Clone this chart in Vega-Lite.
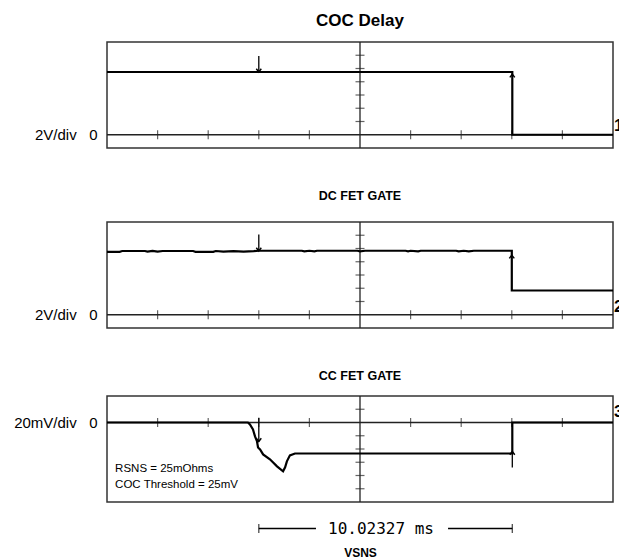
{
  "$schema": "https://vega.github.io/schema/vega-lite/v6.json",
  "padding": {"left": 12, "top": 11, "right": 0, "bottom": 0},
  "config": {
    "font": "Liberation Sans",
    "view": {"stroke": "#333", "strokeWidth": 1.5},
    "title": {"color": "#000", "anchor": "middle"}
  },
  "datasets": {
    "ticksX": [{"t": -8}, {"t": -6}, {"t": -4}, {"t": -2}, {"t": 2}, {"t": 4}, {"t": 6}, {"t": 8}],
    "ticksY12": [{"v": 2}, {"v": 4}, {"v": 6}, {"v": 8}, {"v": 10}, {"v": 12}],
    "ticksY3": [{"v": 20}, {"v": -20}, {"v": -40}, {"v": -60}, {"v": -80}, {"v": -100}],
    "sig1": [
      {"i": 0, "t": -10, "v": 9.47},
      {"i": 1, "t": 6.02, "v": 9.47},
      {"i": 2, "t": 6.02, "v": 0},
      {"i": 3, "t": 10, "v": 0}
    ],
    "sig2": [
      {"i": 0, "t": -10, "v": 9.5},
      {"i": 1, "t": -9.5, "v": 9.5},
      {"i": 2, "t": -9.4, "v": 9.62},
      {"i": 3, "t": -8.5, "v": 9.62},
      {"i": 4, "t": -8.4, "v": 9.52},
      {"i": 5, "t": -8.2, "v": 9.64},
      {"i": 6, "t": -8.0, "v": 9.52},
      {"i": 7, "t": -7.8, "v": 9.62},
      {"i": 8, "t": -6.6, "v": 9.62},
      {"i": 9, "t": -6.5, "v": 9.5},
      {"i": 10, "t": -5.8, "v": 9.5},
      {"i": 11, "t": -5.7, "v": 9.62},
      {"i": 12, "t": -5.4, "v": 9.54},
      {"i": 13, "t": -5.0, "v": 9.6},
      {"i": 14, "t": -4.6, "v": 9.54},
      {"i": 15, "t": -4.2, "v": 9.6},
      {"i": 16, "t": -4.0, "v": 9.66},
      {"i": 17, "t": -2.3, "v": 9.66},
      {"i": 18, "t": -2.2, "v": 9.56},
      {"i": 19, "t": -2.0, "v": 9.66},
      {"i": 20, "t": -1.8, "v": 9.57},
      {"i": 21, "t": -1.7, "v": 9.66},
      {"i": 22, "t": -0.1, "v": 9.66},
      {"i": 23, "t": 0, "v": 9.57},
      {"i": 24, "t": 0.2, "v": 9.66},
      {"i": 25, "t": 1.8, "v": 9.66},
      {"i": 26, "t": 1.9, "v": 9.57},
      {"i": 27, "t": 2.0, "v": 9.66},
      {"i": 28, "t": 2.3, "v": 9.57},
      {"i": 29, "t": 2.4, "v": 9.66},
      {"i": 30, "t": 3.8, "v": 9.66},
      {"i": 31, "t": 3.9, "v": 9.56},
      {"i": 32, "t": 4.1, "v": 9.66},
      {"i": 33, "t": 4.3, "v": 9.56},
      {"i": 34, "t": 4.5, "v": 9.66},
      {"i": 35, "t": 6.0, "v": 9.66},
      {"i": 36, "t": 6.0, "v": 3.66},
      {"i": 37, "t": 10, "v": 3.66}
    ],
    "sig3": [
      {"i": 0, "t": -10, "v": 0},
      {"i": 1, "t": -4.43, "v": 0},
      {"i": 2, "t": -4.35, "v": -3},
      {"i": 3, "t": -4.23, "v": -10.5},
      {"i": 4, "t": -4.15, "v": -21},
      {"i": 5, "t": -4.07, "v": -28.6},
      {"i": 6, "t": -4.03, "v": -37.6},
      {"i": 7, "t": -3.95, "v": -40.6},
      {"i": 8, "t": -3.83, "v": -48.1},
      {"i": 9, "t": -3.56, "v": -55.6},
      {"i": 10, "t": -3.28, "v": -66.2},
      {"i": 11, "t": -3.04, "v": -73.7},
      {"i": 12, "t": -2.96, "v": -67.7},
      {"i": 13, "t": -2.89, "v": -58.6},
      {"i": 14, "t": -2.77, "v": -49.6},
      {"i": 15, "t": -2.57, "v": -46.8},
      {"i": 16, "t": 6.02, "v": -46.8},
      {"i": 17, "t": 6.02, "v": 0},
      {"i": 18, "t": 10, "v": 0}
    ],
    "stems1": [{"t": -4, "v": 11.9, "v2": 9.47}],
    "heads1": [{"t": -4, "v": 9.47, "dir": "down"}, {"t": 6.02, "v": 9.16, "dir": "up"}],
    "stems2": [{"t": -4, "v": 12.1, "v2": 9.62}],
    "heads2": [{"t": -4, "v": 9.62, "dir": "down"}, {"t": 6.0, "v": 9.0, "dir": "up"}],
    "stems3": [{"t": -4, "v": 7, "v2": -28.7}, {"t": 6.02, "v": -43.8, "v2": -67.9}],
    "heads3": [{"t": -4, "v": -28.7, "dir": "down"}, {"t": 6.02, "v": -43.8, "dir": "up"}],
    "notes3": [
      {"t": -9.68, "v": -70.9, "s": "RSNS = 25mOhms"},
      {"t": -9.68, "v": -93.6, "s": "COC Threshold = 25mV"}
    ],
    "measLines": [{"t": -4, "t2": -1.74, "v": -160}, {"t": 3.48, "t2": 6.02, "v": -160}],
    "measCaps": [{"t": -4, "v": -160}, {"t": 6.02, "v": -160}],
    "measText": [{"t": 0.83, "v": -160, "s": "10.02327 ms"}]
  },
  "spacing": 39,
  "vconcat": [
    {
      "width": 506, "height": 106,
      "title": {"text": "COC Delay", "fontSize": 17, "fontWeight": "bold", "offset": 11},
      "layer": [
        {"data": {"values": [{"t": 0}]}, "mark": {"type": "rule", "color": "#222", "strokeWidth": 1.3},
         "encoding": {"x": {"field": "t", "type": "quantitative", "scale": {"domain": [-10, 10], "nice": false, "zero": false}, "axis": null}}},
        {"data": {"values": [{"v": 0}]}, "mark": {"type": "rule", "color": "#222", "strokeWidth": 1.3},
         "encoding": {"y": {"field": "v", "type": "quantitative", "scale": {"domain": [-2, 14], "nice": false, "zero": false},
           "axis": {"values": [0], "labelExpr": "'2V/div\u00a0\u00a0\u00a00'", "ticks": false, "domain": false, "grid": false, "labelFontSize": 15, "labelColor": "#000", "labelPadding": 10, "title": null}}}},
        {"data": {"name": "ticksX"}, "mark": {"type": "tick", "orient": "vertical", "size": 9, "thickness": 1.2, "color": "#222"},
         "encoding": {"x": {"field": "t", "type": "quantitative"}, "y": {"datum": 0, "type": "quantitative"}}},
        {"data": {"name": "ticksY12"}, "mark": {"type": "tick", "orient": "horizontal", "size": 9, "thickness": 1.2, "color": "#222"},
         "encoding": {"y": {"field": "v", "type": "quantitative"}, "x": {"datum": 0, "type": "quantitative"}}},
        {"data": {"name": "sig1"}, "mark": {"type": "line", "color": "#000", "strokeWidth": 2.2},
         "encoding": {"x": {"field": "t", "type": "quantitative"}, "y": {"field": "v", "type": "quantitative"}, "order": {"field": "i"}}},
        {"data": {"name": "stems1"}, "mark": {"type": "rule", "color": "#000", "strokeWidth": 1.3},
         "encoding": {"x": {"field": "t", "type": "quantitative"}, "y": {"field": "v", "type": "quantitative"}, "y2": {"field": "v2"}}},
        {"data": {"name": "heads1"}, "mark": {"type": "point", "filled": false, "color": "#000", "strokeWidth": 1.4, "size": 25, "opacity": 1},
         "encoding": {"x": {"field": "t", "type": "quantitative"}, "y": {"field": "v", "type": "quantitative"},
           "shape": {"field": "dir", "type": "nominal", "scale": {"domain": ["down", "up"], "range": ["M-1,-1.3L0,0L1,-1.3", "M-1,1.3L0,0L1,1.3"]}, "legend": null}}},
        {"data": {"values": [{"t": 10, "v": 0, "s": "1"}]}, "mark": {"type": "text", "align": "left", "baseline": "bottom", "dx": 1, "dy": 0, "fontSize": 17, "fontWeight": "bold", "color": "#000"},
         "encoding": {"x": {"field": "t", "type": "quantitative"}, "y": {"field": "v", "type": "quantitative"}, "text": {"field": "s"}}}
      ]
    },
    {
      "width": 506, "height": 106,
      "title": {"text": "DC FET GATE", "fontSize": 12.5, "fontWeight": "bold", "offset": 19},
      "layer": [
        {"data": {"values": [{"t": 0}]}, "mark": {"type": "rule", "color": "#222", "strokeWidth": 1.3},
         "encoding": {"x": {"field": "t", "type": "quantitative", "scale": {"domain": [-10, 10], "nice": false, "zero": false}, "axis": null}}},
        {"data": {"values": [{"v": 0}]}, "mark": {"type": "rule", "color": "#222", "strokeWidth": 1.3},
         "encoding": {"y": {"field": "v", "type": "quantitative", "scale": {"domain": [-2, 14], "nice": false, "zero": false},
           "axis": {"values": [0], "labelExpr": "'2V/div\u00a0\u00a0\u00a00'", "ticks": false, "domain": false, "grid": false, "labelFontSize": 15, "labelColor": "#000", "labelPadding": 10, "title": null}}}},
        {"data": {"name": "ticksX"}, "mark": {"type": "tick", "orient": "vertical", "size": 9, "thickness": 1.2, "color": "#222"},
         "encoding": {"x": {"field": "t", "type": "quantitative"}, "y": {"datum": 0, "type": "quantitative"}}},
        {"data": {"name": "ticksY12"}, "mark": {"type": "tick", "orient": "horizontal", "size": 9, "thickness": 1.2, "color": "#222"},
         "encoding": {"y": {"field": "v", "type": "quantitative"}, "x": {"datum": 0, "type": "quantitative"}}},
        {"data": {"name": "sig2"}, "mark": {"type": "line", "color": "#000", "strokeWidth": 2.2},
         "encoding": {"x": {"field": "t", "type": "quantitative"}, "y": {"field": "v", "type": "quantitative"}, "order": {"field": "i"}}},
        {"data": {"name": "stems2"}, "mark": {"type": "rule", "color": "#000", "strokeWidth": 1.3},
         "encoding": {"x": {"field": "t", "type": "quantitative"}, "y": {"field": "v", "type": "quantitative"}, "y2": {"field": "v2"}}},
        {"data": {"name": "heads2"}, "mark": {"type": "point", "filled": false, "color": "#000", "strokeWidth": 1.4, "size": 25, "opacity": 1},
         "encoding": {"x": {"field": "t", "type": "quantitative"}, "y": {"field": "v", "type": "quantitative"},
           "shape": {"field": "dir", "type": "nominal", "scale": {"domain": ["down", "up"], "range": ["M-1,-1.3L0,0L1,-1.3", "M-1,1.3L0,0L1,1.3"]}, "legend": null}}},
        {"data": {"values": [{"t": 10, "v": 0, "s": "2"}]}, "mark": {"type": "text", "align": "left", "baseline": "bottom", "dx": 1, "dy": 1, "fontSize": 17, "fontWeight": "bold", "color": "#000"},
         "encoding": {"x": {"field": "t", "type": "quantitative"}, "y": {"field": "v", "type": "quantitative"}, "text": {"field": "s"}}}
      ]
    },
    {
      "width": 506, "height": 106,
      "title": {"text": "CC FET GATE", "fontSize": 12.5, "fontWeight": "bold", "offset": 13},
      "layer": [
        {"data": {"values": [{"t": 0}]}, "mark": {"type": "rule", "color": "#222", "strokeWidth": 1.3},
         "encoding": {"x": {"field": "t", "type": "quantitative", "scale": {"domain": [-10, 10], "nice": false, "zero": false},
           "axis": {"orient": "bottom", "labels": false, "ticks": false, "domain": false, "grid": false, "title": "VSNS", "titleFontSize": 12, "titleFontWeight": "bold", "titlePadding": 45, "titleColor": "#000"}}}},
        {"data": {"values": [{"v": 0}]}, "mark": {"type": "rule", "color": "#222", "strokeWidth": 1.3},
         "encoding": {"y": {"field": "v", "type": "quantitative", "scale": {"domain": [-120, 40], "nice": false, "zero": false},
           "axis": {"values": [0], "labelExpr": "'20mV/div\u00a0\u00a0\u00a00'", "ticks": false, "domain": false, "grid": false, "labelFontSize": 15, "labelColor": "#000", "labelPadding": 10, "title": null}}}},
        {"data": {"name": "ticksX"}, "mark": {"type": "tick", "orient": "vertical", "size": 9, "thickness": 1.2, "color": "#222"},
         "encoding": {"x": {"field": "t", "type": "quantitative"}, "y": {"datum": 0, "type": "quantitative"}}},
        {"data": {"name": "ticksY3"}, "mark": {"type": "tick", "orient": "horizontal", "size": 9, "thickness": 1.2, "color": "#222"},
         "encoding": {"y": {"field": "v", "type": "quantitative"}, "x": {"datum": 0, "type": "quantitative"}}},
        {"data": {"name": "sig3"}, "mark": {"type": "line", "color": "#000", "strokeWidth": 2.2},
         "encoding": {"x": {"field": "t", "type": "quantitative"}, "y": {"field": "v", "type": "quantitative"}, "order": {"field": "i"}}},
        {"data": {"name": "stems3"}, "mark": {"type": "rule", "color": "#000", "strokeWidth": 1.3},
         "encoding": {"x": {"field": "t", "type": "quantitative"}, "y": {"field": "v", "type": "quantitative"}, "y2": {"field": "v2"}}},
        {"data": {"name": "heads3"}, "mark": {"type": "point", "filled": false, "color": "#000", "strokeWidth": 1.4, "size": 25, "opacity": 1},
         "encoding": {"x": {"field": "t", "type": "quantitative"}, "y": {"field": "v", "type": "quantitative"},
           "shape": {"field": "dir", "type": "nominal", "scale": {"domain": ["down", "up"], "range": ["M-1,-1.3L0,0L1,-1.3", "M-1,1.3L0,0L1,1.3"]}, "legend": null}}},
        {"data": {"values": [{"t": 10, "v": 0, "s": "3"}]}, "mark": {"type": "text", "align": "left", "baseline": "bottom", "dx": 1, "dy": -2, "fontSize": 17, "fontWeight": "bold", "color": "#000"},
         "encoding": {"x": {"field": "t", "type": "quantitative"}, "y": {"field": "v", "type": "quantitative"}, "text": {"field": "s"}}},
        {"data": {"name": "notes3"}, "mark": {"type": "text", "align": "left", "baseline": "middle", "fontSize": 11.5, "color": "#000"},
         "encoding": {"x": {"field": "t", "type": "quantitative"}, "y": {"field": "v", "type": "quantitative"}, "text": {"field": "s"}}},
        {"data": {"name": "measLines"}, "mark": {"type": "rule", "color": "#000", "strokeWidth": 1.3},
         "encoding": {"x": {"field": "t", "type": "quantitative"}, "x2": {"field": "t2"}, "y": {"field": "v", "type": "quantitative"}}},
        {"data": {"name": "measCaps"}, "mark": {"type": "tick", "orient": "vertical", "size": 9, "thickness": 1.3, "color": "#000"},
         "encoding": {"x": {"field": "t", "type": "quantitative"}, "y": {"field": "v", "type": "quantitative"}}},
        {"data": {"name": "measText"}, "mark": {"type": "text", "align": "center", "baseline": "middle", "font": "DejaVu Sans Mono", "fontSize": 16, "color": "#000"},
         "encoding": {"x": {"field": "t", "type": "quantitative"}, "y": {"field": "v", "type": "quantitative"}, "text": {"field": "s"}}}
      ]
    }
  ]
}
